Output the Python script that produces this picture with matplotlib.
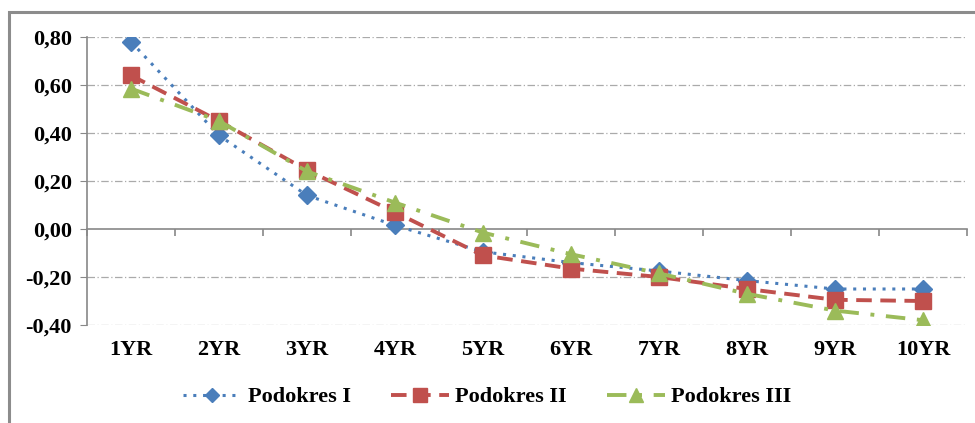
import matplotlib.pyplot as plt
from matplotlib.patches import Rectangle

# data
years = ['1YR', '2YR', '3YR', '4YR', '5YR', '6YR', '7YR', '8YR', '9YR', '10YR']
podokres_1 = [0.78, 0.39, 0.14, 0.015, -0.095, -0.14, -0.175, -0.215, -0.25, -0.25]
podokres_2 = [0.64, 0.45, 0.245, 0.07, -0.11, -0.165, -0.20, -0.25, -0.295, -0.30]
podokres_3 = [0.585, 0.45, 0.24, 0.11, -0.015, -0.105, -0.185, -0.27, -0.34, -0.38]
y_ticks = [-0.4, -0.2, 0.0, 0.2, 0.4, 0.6, 0.8]

plt.rcParams['font.family'] = ['Liberation Serif', 'DejaVu Serif']
plt.rcParams['font.weight'] = 'bold'

fig = plt.figure(figsize=(9.75, 4.23), dpi=100)
ax = fig.add_axes([87 / 975, 1 - 325 / 423, 880 / 975, 288 / 423])

# outer chart frame (left and top edges visible)
fig.patches.append(Rectangle((9 / 975, -0.05), 1.2, 1 - 12 / 423 + 0.05,
                             transform=fig.transFigure, fill=False,
                             edgecolor='#8c8c8c', linewidth=2.2))

x = list(range(len(years)))
ax.plot(x, podokres_1, linestyle=(0, (1, 2.2)), color='#4a7ebb', linewidth=2.2,
        marker='D', markersize=9.5, label='Podokres I')
ax.plot(x, podokres_2, linestyle=(0, (4, 2.2)), color='#c0504d', linewidth=2.8,
        marker='s', markersize=12, label='Podokres II')
ax.plot(x, podokres_3, linestyle=(0, (5, 3, 1, 3)), color='#9bbb59', linewidth=2.8,
        marker='^', markersize=12, label='Podokres III')

ax.set_xlim(-0.5, len(years) - 0.5)
ax.set_ylim(y_ticks[0], y_ticks[-1])
ax.set_yticks(y_ticks)
ax.set_yticklabels([f'{v:.2f}'.replace('.', ',') for v in y_ticks])
ax.set_xticks(x)
ax.set_xticklabels(years)
ax.tick_params(axis='x', length=0, pad=11, labelsize=16)
ax.tick_params(axis='y', length=5, color='#888888', labelsize=16, pad=6)

for v in y_ticks:
    if v != 0:
        ax.axhline(v, color='#aaaaaa', linewidth=0.9, linestyle=(0, (6, 2, 1, 2)), zorder=0)

for s in ['top', 'right', 'bottom']:
    ax.spines[s].set_visible(False)
ax.spines['left'].set_color('#888888')
ax.spines['left'].set_linewidth(1.2)

# category axis line crossing at zero, with ticks between categories
zero_frac = (0 - y_ticks[0]) / (y_ticks[-1] - y_ticks[0])
sec = ax.secondary_xaxis(zero_frac)
sec.set_xticks([i - 0.5 for i in range(len(years) + 1)])
sec.set_xticklabels([])
sec.tick_params(length=5, color='#888888', width=1.2)
sec.spines['bottom'].set_color('#888888')
sec.spines['bottom'].set_linewidth(1.2)

fig.legend(loc='center', bbox_to_anchor=(0.5, 1 - 397 / 423), ncol=3, frameon=False,
           fontsize=16, handlelength=2.6, columnspacing=1.8, handletextpad=0.3,
           markerscale=0.8)

fig.savefig('out.png', dpi=100)
